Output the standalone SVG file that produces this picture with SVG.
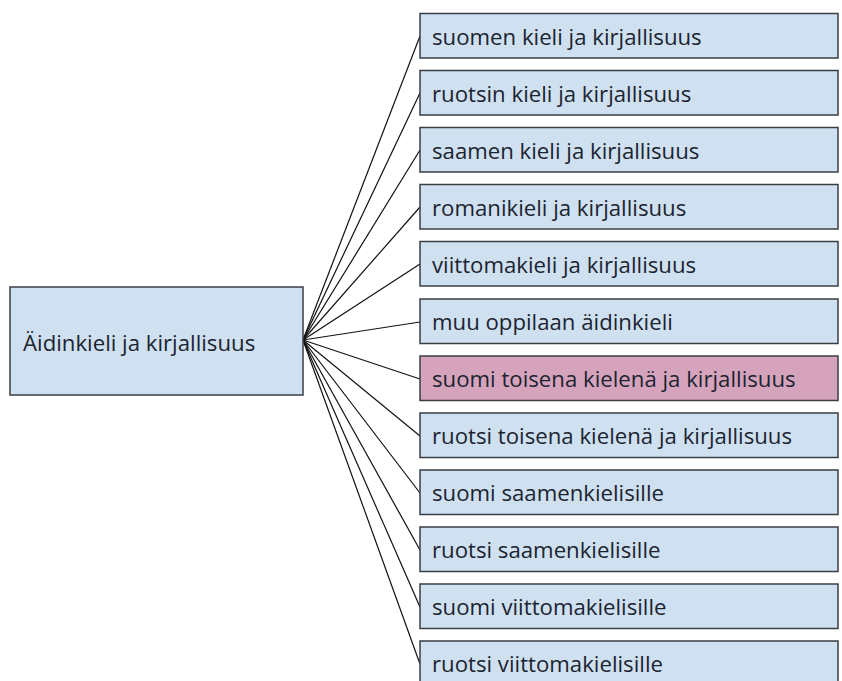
<svg xmlns="http://www.w3.org/2000/svg" width="842" height="681" viewBox="0 0 842 681">
<style>
.box{fill:#cfe0f1;stroke:#3a3f44;stroke-width:1.5}
.pink{fill:#d6a3bd;stroke:#3a3f44;stroke-width:1.5}
.t{font-family:"Open Sans","Liberation Sans",sans-serif;font-size:22.2px;fill:#1c2430;dominant-baseline:central}
.c line{stroke:#111;stroke-width:1.2}
</style>
<rect width="842" height="681" fill="#ffffff"/>
<g class="c" id="connectors">
<line x1="303" y1="340" x2="420" y2="36"/>
<line x1="303" y1="340" x2="420" y2="93"/>
<line x1="303" y1="340" x2="420" y2="150"/>
<line x1="303" y1="340" x2="420" y2="207"/>
<line x1="303" y1="340" x2="420" y2="264"/>
<line x1="303" y1="340" x2="420" y2="322"/>
<line x1="303" y1="340" x2="420" y2="379"/>
<line x1="303" y1="340" x2="420" y2="436"/>
<line x1="303" y1="340" x2="420" y2="493"/>
<line x1="303" y1="340" x2="420" y2="550"/>
<line x1="303" y1="340" x2="420" y2="607"/>
<line x1="303" y1="340" x2="420" y2="664"/>
</g>
<g id="root"><rect class="box" x="10" y="287" width="293" height="108"/><text class="t" x="23" y="342">Äidinkieli ja kirjallisuus</text></g>
<g id="n1"><rect class="box" x="420" y="13.5" width="418" height="44.5"/><text class="t" x="432" y="36">suomen kieli ja kirjallisuus</text></g>
<g id="n2"><rect class="box" x="420" y="70.5" width="418" height="44.5"/><text class="t" x="432" y="93">ruotsin kieli ja kirjallisuus</text></g>
<g id="n3"><rect class="box" x="420" y="127.5" width="418" height="44.5"/><text class="t" x="432" y="150">saamen kieli ja kirjallisuus</text></g>
<g id="n4"><rect class="box" x="420" y="184.5" width="418" height="44.5"/><text class="t" x="432" y="207">romanikieli ja kirjallisuus</text></g>
<g id="n5"><rect class="box" x="420" y="241.5" width="418" height="44.5"/><text class="t" x="432" y="264">viittomakieli ja kirjallisuus</text></g>
<g id="n6"><rect class="box" x="420" y="299" width="418" height="44.5"/><text class="t" x="432" y="321.5">muu oppilaan äidinkieli</text></g>
<g id="n7"><rect class="pink" x="420" y="356" width="418" height="44.5"/><text class="t" x="432" y="378.5">suomi toisena kielenä ja kirjallisuus</text></g>
<g id="n8"><rect class="box" x="420" y="413" width="418" height="44.5"/><text class="t" x="432" y="435.5">ruotsi toisena kielenä ja kirjallisuus</text></g>
<g id="n9"><rect class="box" x="420" y="470" width="418" height="44.5"/><text class="t" x="432" y="492.5">suomi saamenkielisille</text></g>
<g id="n10"><rect class="box" x="420" y="527" width="418" height="44.5"/><text class="t" x="432" y="549.5">ruotsi saamenkielisille</text></g>
<g id="n11"><rect class="box" x="420" y="584" width="418" height="44.5"/><text class="t" x="432" y="606.5">suomi viittomakielisille</text></g>
<g id="n12"><rect class="box" x="420" y="641" width="418" height="44.5"/><text class="t" x="432" y="663.5">ruotsi viittomakielisille</text></g>
</svg>
